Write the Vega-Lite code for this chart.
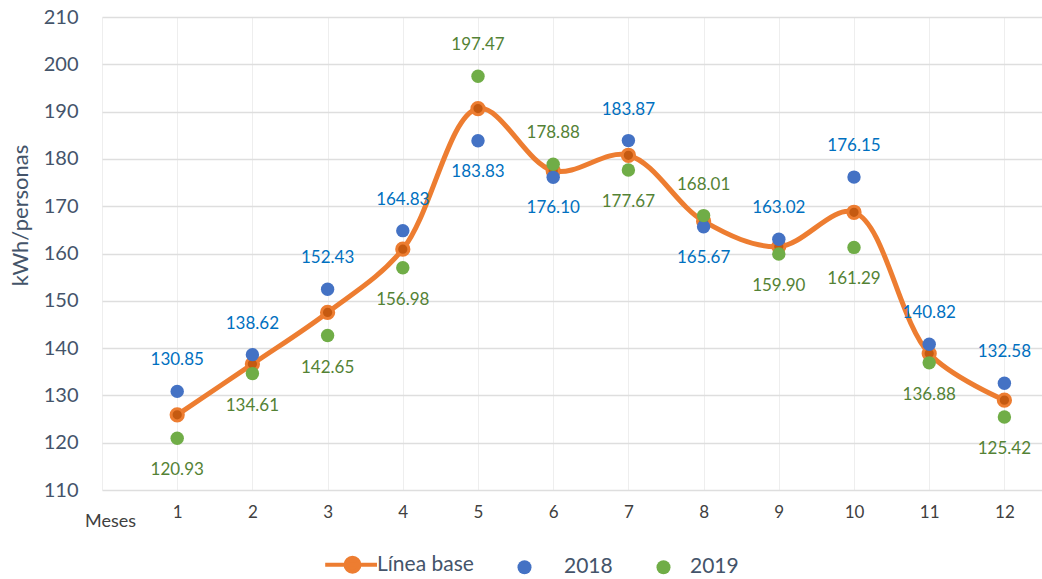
{
  "$schema": "https://vega.github.io/schema/vega-lite/v6.json",
  "autosize": "none",
  "width": 940,
  "height": 473,
  "padding": {"left": 102, "top": 17, "right": 0, "bottom": 89},
  "background": "white",
  "config": {
    "font": "Lato",
    "view": {"stroke": null},
    "axis": {"labelFont": "Lato", "titleFont": "Lato"}
  },
  "data": {
    "values": [
      {"mes": 1, "serie": "Línea base", "valor": 125.89},
      {"mes": 2, "serie": "Línea base", "valor": 136.62},
      {"mes": 3, "serie": "Línea base", "valor": 147.54},
      {"mes": 4, "serie": "Línea base", "valor": 160.91},
      {"mes": 5, "serie": "Línea base", "valor": 190.65},
      {"mes": 6, "serie": "Línea base", "valor": 177.49},
      {"mes": 7, "serie": "Línea base", "valor": 180.77},
      {"mes": 8, "serie": "Línea base", "valor": 166.84},
      {"mes": 9, "serie": "Línea base", "valor": 161.46},
      {"mes": 10, "serie": "Línea base", "valor": 168.72},
      {"mes": 11, "serie": "Línea base", "valor": 138.85},
      {"mes": 12, "serie": "Línea base", "valor": 129.0},
      {"mes": 1, "serie": "2018", "valor": 130.85},
      {"mes": 2, "serie": "2018", "valor": 138.62},
      {"mes": 3, "serie": "2018", "valor": 152.43},
      {"mes": 4, "serie": "2018", "valor": 164.83},
      {"mes": 5, "serie": "2018", "valor": 183.83},
      {"mes": 6, "serie": "2018", "valor": 176.10},
      {"mes": 7, "serie": "2018", "valor": 183.87},
      {"mes": 8, "serie": "2018", "valor": 165.67},
      {"mes": 9, "serie": "2018", "valor": 163.02},
      {"mes": 10, "serie": "2018", "valor": 176.15},
      {"mes": 11, "serie": "2018", "valor": 140.82},
      {"mes": 12, "serie": "2018", "valor": 132.58},
      {"mes": 1, "serie": "2019", "valor": 120.93},
      {"mes": 2, "serie": "2019", "valor": 134.61},
      {"mes": 3, "serie": "2019", "valor": 142.65},
      {"mes": 4, "serie": "2019", "valor": 156.98},
      {"mes": 5, "serie": "2019", "valor": 197.47},
      {"mes": 6, "serie": "2019", "valor": 178.88},
      {"mes": 7, "serie": "2019", "valor": 177.67},
      {"mes": 8, "serie": "2019", "valor": 168.01},
      {"mes": 9, "serie": "2019", "valor": 159.90},
      {"mes": 10, "serie": "2019", "valor": 161.29},
      {"mes": 11, "serie": "2019", "valor": 136.88},
      {"mes": 12, "serie": "2019", "valor": 125.42}
    ]
  },
  "encoding": {
    "x": {
      "field": "mes",
      "type": "quantitative",
      "scale": {"domain": [0, 12.5], "nice": false, "zero": false},
      "axis": {
        "values": [0, 1, 2, 3, 4, 5, 6, 7, 8, 9, 10, 11, 12],
        "labelExpr": "datum.value == 0 ? '' : datum.label",
        "title": "Meses",
        "titleAnchor": "start",
        "titleAlign": "center",
        "titleX": 8,
        "titleY": 31,
        "titleBaseline": "middle",
        "titleFontSize": 18,
        "titleFontWeight": "normal",
        "titleColor": "#404040",
        "labelFontSize": 17,
        "labelColor": "#404040",
        "labelPadding": 22,
        "labelBaseline": "middle",
        "labelBound": false,
        "labelFlush": false,
        "domain": false,
        "ticks": false,
        "grid": true,
        "gridColor": "#eeeeee",
        "gridWidth": 1
      }
    },
    "y": {
      "field": "valor",
      "type": "quantitative",
      "scale": {"domain": [110, 210], "nice": false, "zero": false},
      "axis": {
        "values": [110, 120, 130, 140, 150, 160, 170, 180, 190, 200, 210],
        "title": "kWh/personas",
        "titleFontSize": 22,
        "titleFontWeight": "normal",
        "titleColor": "#44546A",
        "titleX": -82,
        "titleY": 198,
        "titleAngle": -90,
        "titleBaseline": "middle",
        "titleAlign": "center",
        "labelFontSize": 20,
        "labelColor": "#44546A",
        "labelPadding": 24,
        "domain": false,
        "ticks": false,
        "grid": true,
        "gridColor": "#dedede",
        "gridWidth": 1.5
      }
    },
    "color": {
      "field": "serie",
      "type": "nominal",
      "scale": {
        "domain": ["Línea base", "2018", "2019"],
        "range": ["#ED7D31", "#4472C4", "#70AD47"]
      },
      "legend": {
        "title": null,
        "orient": "none",
        "direction": "horizontal",
        "legendX": 240,
        "legendY": 537,
        "labelFontSize": 21,
        "labelColor": "#44546A",
        "labelOffset": 23,
        "labelLimit": 300,
        "columnPadding": 40,
        "symbolSize": 196,
        "symbolOpacity": 1,
        "encode": {
          "labels": {
            "update": {
              "dx": {"signal": "datum.label == 'Línea base' ? -9 : (datum.label == '2018' ? 6 : -7)"}
            }
          },
          "symbols": {
            "update": {
              "shape": {"signal": "datum.label == 'Línea base' ? 'M-3.9,0H3.5M1,0A1,1 0 1,1 -1,0A1,1 0 1,1 1,0Z' : 'circle'"},
              "fill": {"signal": "datum.label == 'Línea base' ? '#C55A11' : (datum.label == '2018' ? '#4472C4' : '#70AD47')"},
              "stroke": {"signal": "datum.label == 'Línea base' ? '#ED7D31' : 'transparent'"},
              "strokeWidth": {"signal": "datum.label == 'Línea base' ? 4 : 0"},
              "dx": {"signal": "datum.label == '2018' ? 10 : (datum.label == '2019' ? -12 : 0)"},
              "opacity": {"value": 1}
            }
          }
        }
      }
    }
  },
  "layer": [
    {
      "transform": [{"filter": {"field": "serie", "equal": "Línea base"}}],
      "mark": {"type": "line", "interpolate": "catmull-rom", "strokeWidth": 5, "color": "#ED7D31"}
    },
    {
      "transform": [{"filter": {"field": "serie", "equal": "Línea base"}}],
      "mark": {"type": "point", "filled": true, "size": 150, "fill": "#C55A11", "stroke": "#ED7D31", "strokeWidth": 3, "opacity": 1}
    },
    {
      "transform": [{"filter": {"field": "serie", "oneOf": ["2018", "2019"]}}],
      "mark": {"type": "circle", "size": 180, "opacity": 1}
    },
    {
      "transform": [
        {"filter": {"field": "serie", "equal": "2018"}},
        {"filter": {"not": {"field": "mes", "oneOf": [5, 6, 8]}}}
      ],
      "mark": {"type": "text", "dy": -31, "fontSize": 17},
      "encoding": {"text": {"field": "valor", "type": "quantitative", "format": ".2f"}, "color": {"value": "#0070C0"}}
    },
    {
      "transform": [
        {"filter": {"field": "serie", "equal": "2018"}},
        {"filter": {"field": "mes", "oneOf": [5, 6, 8]}}
      ],
      "mark": {"type": "text", "dy": 31, "fontSize": 17},
      "encoding": {"text": {"field": "valor", "type": "quantitative", "format": ".2f"}, "color": {"value": "#0070C0"}}
    },
    {
      "transform": [
        {"filter": {"field": "serie", "equal": "2019"}},
        {"filter": {"field": "mes", "oneOf": [5, 6, 8]}}
      ],
      "mark": {"type": "text", "dy": -31, "fontSize": 17},
      "encoding": {"text": {"field": "valor", "type": "quantitative", "format": ".2f"}, "color": {"value": "#548235"}}
    },
    {
      "transform": [
        {"filter": {"field": "serie", "equal": "2019"}},
        {"filter": {"not": {"field": "mes", "oneOf": [5, 6, 8]}}}
      ],
      "mark": {"type": "text", "dy": 32, "fontSize": 17},
      "encoding": {"text": {"field": "valor", "type": "quantitative", "format": ".2f"}, "color": {"value": "#548235"}}
    }
  ]
}
